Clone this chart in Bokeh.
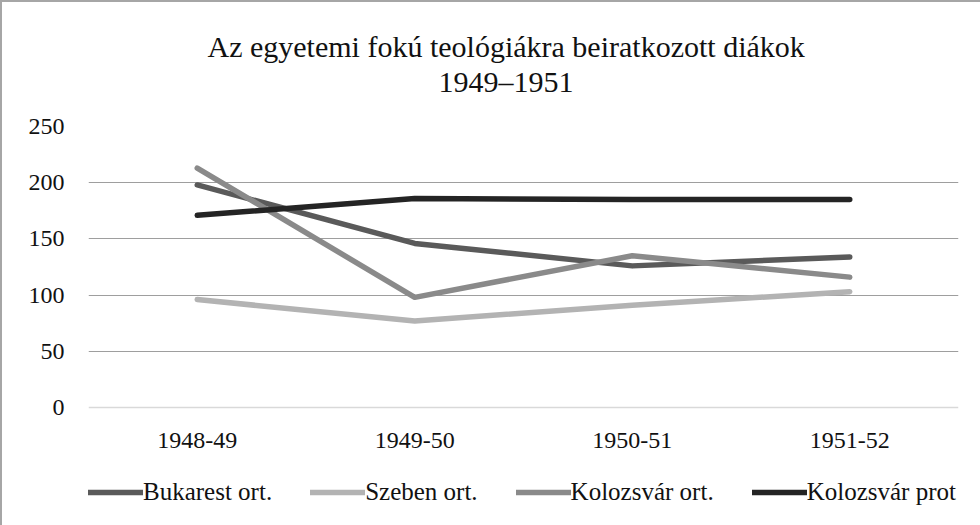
from bokeh.plotting import figure
from bokeh.models import Legend, LegendItem, Title, FactorRange, Range1d, FixedTicker
from bokeh.embed import file_html
from bokeh.resources import INLINE

categories = ["1948-49", "1949-50", "1950-51", "1951-52"]
bukarest_ort = [198, 146, 126, 134]
szeben_ort = [96, 77, 91, 103]
kolozsvar_ort = [213, 98, 135, 116]
kolozsvar_prot = [171, 186, 185, 185]
series_names = ["Bukarest ort.", "Szeben ort.", "Kolozsvár ort.", "Kolozsvár prot"]
series_colors = ["#5a5a5a", "#b3b3b3", "#8a8a8a", "#242424"]
y_ticks = [0, 50, 100, 150, 200, 250]
title_lines = ["Az egyetemi fokú teológiákra beiratkozott diákok", "1949–1951"]

FONT = "Liberation Serif"

# plot area: 0..250 spans 281 px; the frame is extended downward to hold the legend
PX_PER_UNIT = 281 / 250
EXTRA_BELOW = 110
y_low = -EXTRA_BELOW / PX_PER_UNIT

p = figure(frame_width=870, frame_height=281 + EXTRA_BELOW,
           x_range=FactorRange(*categories, range_padding=0),
           y_range=Range1d(y_low, 250),
           output_backend="svg", toolbar_location=None,
           min_border_left=86, min_border_right=22,
           min_border_top=124, min_border_bottom=8)
p.styles = {"border-left": "2px solid #a6a6a6", "border-top": "2px solid #a6a6a6"}
p.outline_line_color = None
p.background_fill_color = "white"
p.border_fill_color = "white"

series = [bukarest_ort, szeben_ort, kolozsvar_ort, kolozsvar_prot]
renderers = []
for vals, col in zip(series, series_colors):
    r = p.line(categories, vals, line_color=col, line_width=5.5, line_cap="round", line_join="round")
    renderers.append(r)

p.xgrid.grid_line_color = None
p.ygrid.ticker = FixedTicker(ticks=y_ticks[1:])
p.ygrid.grid_line_color = "#9e9e9e"
p.ygrid.grid_line_width = 1

p.yaxis.ticker = FixedTicker(ticks=y_ticks)
p.yaxis.axis_line_color = None
p.yaxis.major_tick_line_color = None
p.yaxis.minor_tick_line_color = None
p.yaxis.major_label_standoff = 18
p.yaxis.major_label_text_font = FONT
p.yaxis.major_label_text_font_size = "24px"
p.yaxis.major_label_text_color = "#111111"

p.xaxis.fixed_location = 0
p.xaxis.axis_line_color = "#d9d9d9"
p.xaxis.axis_line_width = 1.5
p.xaxis.major_tick_line_color = None
p.xaxis.minor_tick_line_color = None
p.xaxis.major_label_standoff = 19
p.xaxis.major_label_text_font = FONT
p.xaxis.major_label_text_font_size = "24px"
p.xaxis.major_label_text_color = "#111111"

# spacer between frame and title lines
p.add_layout(Title(text=" ", text_font_size="10px", standoff=15), "above")
for txt, off in zip(reversed(title_lines), [350, 119]):
    p.add_layout(Title(text=txt, align="left", offset=off, vertical_align="middle", standoff=0,
                       text_font=FONT, text_font_size="30px",
                       text_font_style="normal", text_color="#111111"), "above")

legend = Legend(items=[LegendItem(label=n, renderers=[r]) for n, r in zip(series_names, renderers)],
                orientation="horizontal", location=(0, 11), nrows=1,
                glyph_width=55, glyph_height=20, label_standoff=0, spacing=38,
                padding=0, margin=0, border_line_alpha=0, background_fill_alpha=0,
                label_text_font=FONT, label_text_font_size="25px", label_text_color="#111111")
p.add_layout(legend)

open("out.html", "w").write(file_html(p, INLINE))
